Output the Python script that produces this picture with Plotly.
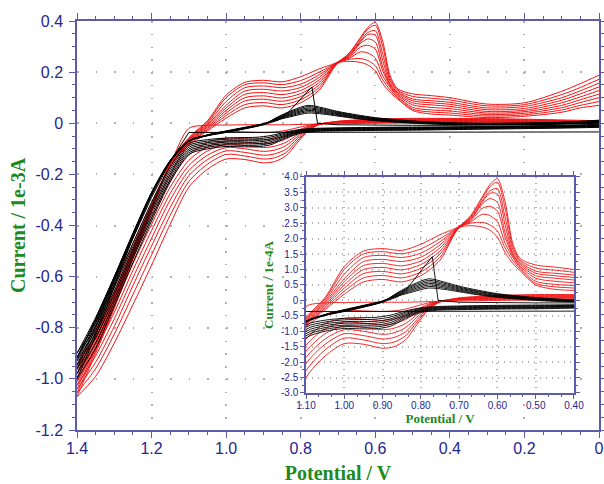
import plotly.graph_objects as go

# ---------------- data (current in mA = 1e-3 A, potential in V) ----------------
# potential grids
E_RED_DN = [0.00, 0.10, 0.20, 0.30, 0.40, 0.50, 0.60, 0.70, 0.75, 0.78, 0.81, 0.84,
            0.87, 0.90, 0.95, 1.00, 1.05, 1.10, 1.15, 1.20, 1.25, 1.30, 1.35, 1.40]
E_RED_UP = [1.40, 1.35, 1.30, 1.25, 1.20, 1.15, 1.10, 1.05, 1.00, 0.95, 0.90, 0.85,
            0.80, 0.75, 0.70, 0.67, 0.64, 0.62, 0.60, 0.58, 0.56, 0.54, 0.50, 0.45,
            0.40, 0.30, 0.20, 0.10, 0.05, 0.00]
E_BLK_DN = [0.00, 0.10, 0.20, 0.30, 0.40, 0.50, 0.60, 0.70, 0.76, 0.80, 0.84, 0.88,
            0.92, 0.96, 1.00, 1.05, 1.10, 1.15, 1.20, 1.25, 1.30, 1.35, 1.40]
E_BLK_UP = [1.40, 1.35, 1.30, 1.25, 1.20, 1.15, 1.10, 1.05, 1.00, 0.95, 0.90, 0.86,
            0.82, 0.78, 0.74, 0.70, 0.65, 0.60, 0.50, 0.40, 0.30, 0.20, 0.10, 0.00]
E_SPIKE_DN = [0.00, 0.50, 1.00, 1.10, 1.15, 1.20, 1.25, 1.30, 1.35, 1.40]
E_SPIKE_UP = [1.40, 1.35, 1.30, 1.25, 1.20, 1.15, 1.10, 1.05, 1.00, 0.95, 0.90, 0.86,
              0.84, 0.77, 0.755, 0.70, 0.60, 0.50, 0.40, 0.30, 0.20, 0.10, 0.00]

# red cycles: scan toward 1.4 V (DN) and back (UP)
RED_DN_C1 = [0.000, 0.000, 0.001, 0.001, 0.001, 0.001, 0.000, -0.002, -0.003, -0.004, -0.005, -0.006, -0.006, -0.006, -0.006, -0.007, -0.008, -0.020, -0.160, -0.310, -0.470, -0.640, -0.800, -0.950]
RED_DN_C2 = [0.002, 0.002, 0.003, 0.004, 0.004, 0.004, 0.003, 0.001, -0.002, -0.008, -0.018, -0.028, -0.034, -0.036, -0.034, -0.032, -0.045, -0.085, -0.200, -0.345, -0.500, -0.665, -0.820, -0.965]
RED_DN_C3 = [0.004, 0.004, 0.005, 0.006, 0.007, 0.007, 0.005, 0.002, -0.002, -0.012, -0.030, -0.050, -0.060, -0.065, -0.061, -0.058, -0.075, -0.125, -0.225, -0.370, -0.525, -0.690, -0.840, -0.980]
RED_DN_C4 = [0.005, 0.006, 0.007, 0.008, 0.009, 0.009, 0.007, 0.003, -0.003, -0.015, -0.038, -0.062, -0.075, -0.080, -0.074, -0.070, -0.092, -0.145, -0.250, -0.395, -0.550, -0.715, -0.860, -0.995]
RED_DN_C5 = [0.006, 0.007, 0.008, 0.010, 0.011, 0.011, 0.009, 0.004, -0.003, -0.018, -0.046, -0.075, -0.090, -0.095, -0.087, -0.082, -0.108, -0.165, -0.275, -0.420, -0.575, -0.740, -0.885, -1.010]
RED_DN_C6 = [0.007, 0.008, 0.010, 0.012, 0.013, 0.013, 0.011, 0.005, -0.004, -0.021, -0.054, -0.088, -0.105, -0.110, -0.100, -0.095, -0.125, -0.185, -0.300, -0.450, -0.605, -0.765, -0.910, -1.025]
RED_DN_C7 = [0.008, 0.010, 0.012, 0.014, 0.015, 0.015, 0.012, 0.006, -0.004, -0.024, -0.062, -0.102, -0.120, -0.125, -0.114, -0.108, -0.142, -0.205, -0.330, -0.480, -0.635, -0.795, -0.935, -1.040]
RED_DN_C8 = [0.009, 0.011, 0.014, 0.016, 0.017, 0.017, 0.014, 0.007, -0.005, -0.027, -0.070, -0.115, -0.135, -0.140, -0.128, -0.122, -0.160, -0.228, -0.360, -0.515, -0.670, -0.825, -0.960, -1.055]
RED_DN_C9 = [0.010, 0.013, 0.016, 0.018, 0.019, 0.019, 0.016, 0.008, -0.005, -0.030, -0.078, -0.128, -0.150, -0.155, -0.142, -0.140, -0.180, -0.250, -0.395, -0.555, -0.710, -0.860, -0.990, -1.070]

RED_UP_C1 = [-0.950, -0.820, -0.660, -0.490, -0.320, -0.170, -0.080, -0.030, 0.020, 0.060, 0.068, 0.060, 0.080, 0.130, 0.235, 0.242, 0.238, 0.228, 0.205, 0.155, 0.120, 0.095, 0.050, 0.036, 0.032, 0.022, 0.027, 0.043, 0.060, 0.070]
RED_UP_C2 = [-0.965, -0.830, -0.668, -0.495, -0.323, -0.168, -0.077, -0.025, 0.030, 0.073, 0.081, 0.073, 0.092, 0.140, 0.236, 0.250, 0.253, 0.245, 0.225, 0.170, 0.130, 0.100, 0.055, 0.044, 0.040, 0.028, 0.033, 0.052, 0.070, 0.085]
RED_UP_C3 = [-0.980, -0.840, -0.676, -0.500, -0.326, -0.166, -0.074, -0.020, 0.040, 0.087, 0.094, 0.086, 0.104, 0.150, 0.237, 0.254, 0.279, 0.275, 0.255, 0.185, 0.140, 0.105, 0.062, 0.052, 0.048, 0.034, 0.039, 0.061, 0.081, 0.100]
RED_UP_C4 = [-0.995, -0.850, -0.684, -0.505, -0.329, -0.164, -0.071, -0.015, 0.050, 0.100, 0.107, 0.099, 0.116, 0.160, 0.238, 0.258, 0.298, 0.305, 0.290, 0.205, 0.145, 0.110, 0.072, 0.062, 0.057, 0.040, 0.045, 0.070, 0.092, 0.114]
RED_UP_C5 = [-1.010, -0.860, -0.692, -0.510, -0.332, -0.162, -0.068, -0.010, 0.060, 0.113, 0.120, 0.112, 0.128, 0.170, 0.238, 0.262, 0.312, 0.330, 0.318, 0.220, 0.150, 0.115, 0.080, 0.072, 0.066, 0.046, 0.051, 0.080, 0.103, 0.128]
RED_UP_C6 = [-1.025, -0.870, -0.700, -0.515, -0.335, -0.160, -0.065, -0.005, 0.070, 0.126, 0.133, 0.126, 0.140, 0.180, 0.239, 0.265, 0.318, 0.347, 0.345, 0.245, 0.155, 0.120, 0.088, 0.080, 0.074, 0.053, 0.058, 0.090, 0.115, 0.142]
RED_UP_C7 = [-1.040, -0.880, -0.708, -0.520, -0.338, -0.158, -0.062, 0.000, 0.085, 0.139, 0.146, 0.139, 0.153, 0.190, 0.239, 0.268, 0.322, 0.355, 0.362, 0.270, 0.165, 0.125, 0.095, 0.088, 0.082, 0.060, 0.066, 0.100, 0.127, 0.157]
RED_UP_C8 = [-1.055, -0.890, -0.716, -0.525, -0.341, -0.156, -0.059, 0.005, 0.100, 0.151, 0.158, 0.151, 0.167, 0.200, 0.240, 0.272, 0.330, 0.368, 0.383, 0.300, 0.175, 0.130, 0.105, 0.098, 0.091, 0.068, 0.073, 0.112, 0.140, 0.172]
RED_UP_C9 = [-1.070, -0.900, -0.724, -0.530, -0.344, -0.154, -0.056, 0.010, 0.110, 0.160, 0.168, 0.162, 0.182, 0.213, 0.240, 0.275, 0.335, 0.375, 0.394, 0.320, 0.185, 0.135, 0.115, 0.108, 0.100, 0.075, 0.080, 0.125, 0.155, 0.188]

# black cycles
BLK_DN_C1 = [-0.004, -0.008, -0.010, -0.012, -0.014, -0.015, -0.016, -0.018, -0.020, -0.024, -0.034, -0.048, -0.055, -0.056, -0.058, -0.064, -0.080, -0.170, -0.310, -0.470, -0.630, -0.780, -0.900]
BLK_DN_C2 = [-0.006, -0.010, -0.012, -0.014, -0.016, -0.017, -0.018, -0.020, -0.022, -0.026, -0.038, -0.054, -0.061, -0.062, -0.063, -0.070, -0.087, -0.180, -0.322, -0.482, -0.643, -0.795, -0.915]
BLK_DN_C3 = [-0.008, -0.012, -0.014, -0.016, -0.018, -0.019, -0.020, -0.022, -0.024, -0.029, -0.042, -0.060, -0.068, -0.068, -0.069, -0.076, -0.094, -0.190, -0.334, -0.494, -0.656, -0.810, -0.930]
BLK_DN_C4 = [-0.010, -0.013, -0.015, -0.017, -0.019, -0.021, -0.022, -0.024, -0.026, -0.031, -0.046, -0.066, -0.074, -0.074, -0.074, -0.082, -0.101, -0.200, -0.346, -0.506, -0.670, -0.825, -0.945]
BLK_DN_C5 = [-0.012, -0.015, -0.017, -0.019, -0.021, -0.023, -0.024, -0.026, -0.028, -0.034, -0.050, -0.072, -0.080, -0.080, -0.080, -0.088, -0.108, -0.210, -0.358, -0.518, -0.685, -0.840, -0.960]
BLK_DN_C6 = [-0.014, -0.017, -0.019, -0.021, -0.023, -0.025, -0.026, -0.028, -0.030, -0.036, -0.054, -0.078, -0.086, -0.086, -0.085, -0.094, -0.115, -0.220, -0.370, -0.530, -0.700, -0.860, -0.980]
BLK_DN_C7 = [-0.016, -0.019, -0.021, -0.023, -0.025, -0.027, -0.028, -0.030, -0.032, -0.039, -0.058, -0.084, -0.092, -0.092, -0.091, -0.100, -0.122, -0.230, -0.382, -0.545, -0.715, -0.880, -1.000]

BLK_UP_C1 = [-0.900, -0.760, -0.600, -0.430, -0.270, -0.145, -0.068, -0.046, -0.030, -0.016, -0.002, 0.014, 0.028, 0.040, 0.036, 0.028, 0.018, 0.010, 0.000, -0.005, -0.006, -0.005, -0.002, 0.004]
BLK_UP_C2 = [-0.915, -0.770, -0.605, -0.433, -0.272, -0.146, -0.068, -0.046, -0.031, -0.017, -0.002, 0.016, 0.032, 0.045, 0.040, 0.031, 0.020, 0.012, 0.002, -0.004, -0.005, -0.004, -0.001, 0.005]
BLK_UP_C3 = [-0.930, -0.780, -0.610, -0.436, -0.274, -0.147, -0.069, -0.047, -0.032, -0.018, -0.003, 0.018, 0.036, 0.050, 0.044, 0.034, 0.023, 0.014, 0.003, -0.002, -0.004, -0.003, 0.000, 0.006]
BLK_UP_C4 = [-0.945, -0.790, -0.615, -0.440, -0.276, -0.148, -0.069, -0.047, -0.033, -0.019, -0.003, 0.020, 0.040, 0.055, 0.048, 0.037, 0.025, 0.016, 0.005, -0.001, -0.003, -0.002, 0.001, 0.008]
BLK_UP_C5 = [-0.960, -0.800, -0.620, -0.443, -0.278, -0.149, -0.070, -0.048, -0.034, -0.020, -0.004, 0.022, 0.044, 0.060, 0.052, 0.040, 0.028, 0.018, 0.006, 0.000, -0.002, -0.001, 0.002, 0.009]
BLK_UP_C6 = [-0.980, -0.815, -0.630, -0.446, -0.280, -0.150, -0.070, -0.048, -0.035, -0.021, -0.004, 0.024, 0.048, 0.065, 0.056, 0.043, 0.030, 0.020, 0.008, 0.001, -0.001, 0.000, 0.003, 0.010]
BLK_UP_C7 = [-1.000, -0.830, -0.640, -0.450, -0.282, -0.151, -0.071, -0.049, -0.036, -0.022, -0.005, 0.026, 0.052, 0.070, 0.060, 0.046, 0.033, 0.022, 0.009, 0.002, 0.000, 0.001, 0.004, 0.012]

# first black scan (sharp spike)
SPIKE_DN = [-0.034, -0.034, -0.034, -0.036, -0.150, -0.290, -0.450, -0.610, -0.770, -0.920]
SPIKE_UP = [-0.920, -0.765, -0.600, -0.432, -0.272, -0.146, -0.068, -0.046, -0.032, -0.019, -0.006, 0.012, 0.032, 0.142, 0.000, -0.006, -0.008, -0.008, -0.008, -0.007, -0.006, -0.004, 0.000]

# tick labels
MAIN_X_TICKS = [1.4, 1.2, 1.0, 0.8, 0.6, 0.4, 0.2, 0.0]
MAIN_X_TEXT = ["1.4", "1.2", "1.0", "0.8", "0.6", "0.4", "0.2", "0"]
MAIN_Y_TICKS = [0.4, 0.2, 0.0, -0.2, -0.4, -0.6, -0.8, -1.0, -1.2]
MAIN_Y_TEXT = ["0.4", "0.2", "0", "-0.2", "-0.4", "-0.6", "-0.8", "-1.0", "-1.2"]
INS_X_TICKS = [1.10, 1.00, 0.90, 0.80, 0.70, 0.60, 0.50, 0.40]
INS_X_TEXT = ["1.10", "1.00", "0.90", "0.80", "0.70", "0.60", "0.50", "0.40"]
INS_Y_TICKS = [4.0, 3.5, 3.0, 2.5, 2.0, 1.5, 1.0, 0.5, 0.0, -0.5, -1.0, -1.5, -2.0, -2.5, -3.0]
INS_Y_TEXT = ["4.0", "3.5", "3.0", "2.5", "2.0", "1.5", "1.0", "0.5", "0", "-0.5", "-1.0", "-1.5", "-2.0", "-2.5", "-3.0"]

# ---------------- figure ----------------
RED = "#f01414"
BLACK = "#000000"
AXIS = "#5c5caa"
TICKTXT = "#262690"
GREEN = "#1e8a1e"
GRID = "#b0b0b0"

red_cycles = [(RED_DN_C1, RED_UP_C1), (RED_DN_C2, RED_UP_C2), (RED_DN_C3, RED_UP_C3),
              (RED_DN_C4, RED_UP_C4), (RED_DN_C5, RED_UP_C5), (RED_DN_C6, RED_UP_C6),
              (RED_DN_C7, RED_UP_C7), (RED_DN_C8, RED_UP_C8), (RED_DN_C9, RED_UP_C9)]
blk_cycles = [(BLK_DN_C1, BLK_UP_C1), (BLK_DN_C2, BLK_UP_C2), (BLK_DN_C3, BLK_UP_C3),
              (BLK_DN_C4, BLK_UP_C4), (BLK_DN_C5, BLK_UP_C5), (BLK_DN_C6, BLK_UP_C6),
              (BLK_DN_C7, BLK_UP_C7)]

fig = go.Figure()


def add_cycle(e_dn, i_dn, e_up, i_up, color, width, shape, xa, ya, scale):
    fig.add_trace(go.Scatter(
        x=list(e_dn) + list(e_up),
        y=[v * scale for v in list(i_dn) + list(i_up)],
        mode="lines",
        line=dict(color=color, width=width, shape=shape, smoothing=0.8),
        xaxis=xa, yaxis=ya, showlegend=False, hoverinfo="skip"))


for xa, ya, scale, w in [("x", "y", 1.0, 1.0), ("x2", "y2", 10.0, 0.9)]:
    for dn, up in red_cycles:
        add_cycle(E_RED_DN, dn, E_RED_UP, up, RED, w, "spline", xa, ya, scale)
    for dn, up in blk_cycles:
        add_cycle(E_BLK_DN, dn, E_BLK_UP, up, BLACK, w, "spline", xa, ya, scale)
    add_cycle(E_SPIKE_DN, SPIKE_DN, E_SPIKE_UP, SPIKE_UP, BLACK, w, "linear", xa, ya, scale)

main_tickfont = dict(family="Liberation Sans, Arial, sans-serif", size=16, color=TICKTXT)
ins_tickfont = dict(family="Liberation Sans, Arial, sans-serif", size=10, color=TICKTXT)
main_title_font = dict(family="Liberation Serif, Times New Roman, serif", size=20, color=GREEN, weight="bold")
ins_title_font = dict(family="Liberation Serif, Times New Roman, serif", size=13, color=GREEN, weight="bold")

common = dict(showline=True, linecolor=AXIS, linewidth=1.5, mirror="ticks", ticks="outside",
              tickcolor=AXIS, tickwidth=1.2, zeroline=False, showgrid=True,
              gridcolor=GRID, gridwidth=1.5, tickmode="array", automargin=False)

fig.update_layout(
    width=604, height=484,
    margin=dict(l=77, r=5, t=21, b=54),
    paper_bgcolor="white", plot_bgcolor="white",
    showlegend=False,
    xaxis=dict(domain=[0, 1], range=[1.4, 0], anchor="y",
               tickvals=MAIN_X_TICKS, ticktext=MAIN_X_TEXT, tickfont=main_tickfont,
               ticklen=6, ticklabelstandoff=-3, griddash="1.5px,11.28px",
               minor=dict(dtick=0.05, tick0=0, ticks="outside", ticklen=3, tickcolor=AXIS, showgrid=False),
               title=dict(text="Potential / V", font=main_title_font, standoff=11),
               **common),
    yaxis=dict(domain=[0, 1], range=[-1.2, 0.4], anchor="x",
               tickvals=MAIN_Y_TICKS, ticktext=MAIN_Y_TEXT, tickfont=main_tickfont,
               ticklen=6, ticklabelstandoff=3, griddash="1.5px,17.14px",
               minor=dict(dtick=0.05, tick0=0, ticks="outside", ticklen=3, tickcolor=AXIS, showgrid=False),
               title=dict(text="Current / 1e-3A", font=main_title_font, standoff=4),
               **common),
    xaxis2=dict(domain=[0.4387, 0.9521], range=[1.10, 0.40], anchor="y2",
                tickvals=INS_X_TICKS, ticktext=INS_X_TEXT, tickfont=ins_tickfont,
                ticklen=4, ticklabelstandoff=-2, griddash="1px,5px",
                minor=dict(dtick=0.1 / 3, tick0=0.4, ticks="outside", ticklen=2, tickcolor=AXIS, showgrid=False),
                title=dict(text="Potential / V", font=ins_title_font, standoff=1),
                **common),
    yaxis2=dict(domain=[0.0905, 0.6186], range=[-3.0, 4.0], anchor="x2",
                tickvals=INS_Y_TICKS, ticktext=INS_Y_TEXT, tickfont=ins_tickfont,
                ticklen=4, griddash="1px,5px",
                minor=dict(dtick=0.25, tick0=0, ticks="outside", ticklen=2, tickcolor=AXIS, showgrid=False),
                title=dict(text="Current / 1e-4A", font=ins_title_font, standoff=4),
                **common),
)

# hide the toolbar and remove the page's default 8px body margin
fig.write_html("out.html", config={"displayModeBar": False},
               post_script="document.body.style.margin='0';document.body.style.overflow='hidden';")
